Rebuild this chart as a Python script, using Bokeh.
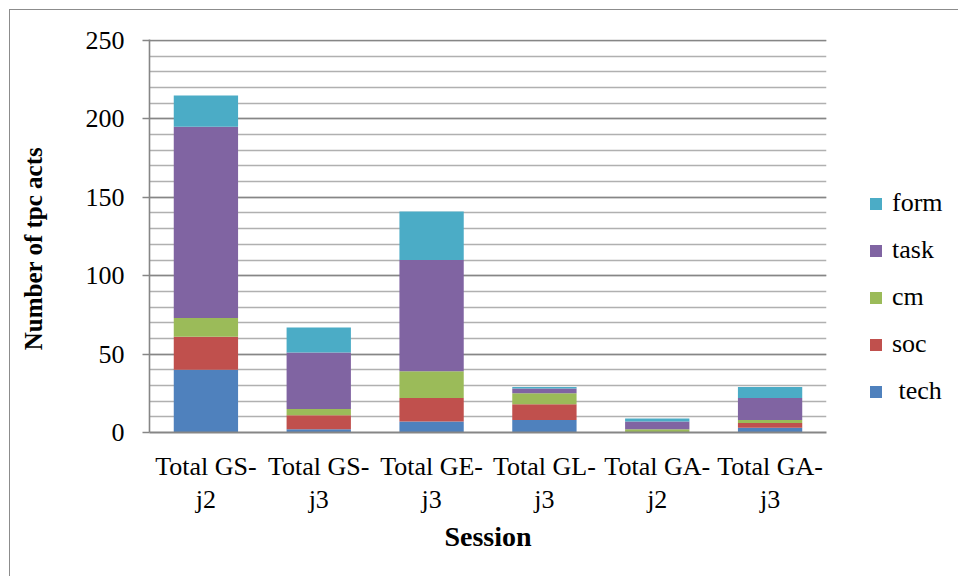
from bokeh.plotting import figure
from bokeh.models import Legend, LegendItem, SingleIntervalTicker, FixedTicker
from bokeh.embed import file_html
from bokeh.resources import INLINE

sessions = ["Total GS-\nj2", "Total GS-\nj3", "Total GE-\nj3", "Total GL-\nj3", "Total GA-\nj2", "Total GA-\nj3"]
tech = [40, 2, 7, 8, 0, 3]
soc = [21, 9, 15, 10, 0, 3]
cm = [12, 4, 17, 7, 2, 2]
task = [122, 36, 71, 3, 5, 14]
form = [20, 16, 31, 1, 2, 7]

series = ["tech", "soc", "cm", "task", "form"]
legend_labels = [" tech", "soc", "cm", "task", "form"]
colors = ["#4f81bd", "#c0504d", "#9bbb59", "#8064a2", "#4bacc6"]

data = {"session": sessions, "tech": tech, "soc": soc, "cm": cm, "task": task, "form": form}

FONT = "Liberation Serif"

p = figure(x_range=sessions, y_range=(0, 250.64), frame_width=677, frame_height=393,
           output_backend="svg", toolbar_location=None,
           min_border_left=139, min_border_right=122, min_border_top=29, min_border_bottom=144)
p.styles = {"margin-left": "9px", "margin-top": "9px",
            "border-top": "1px solid #8c8c8c", "border-left": "1px solid #8c8c8c",
            "border-right": "1px solid #8c8c8c"}
p.outline_line_color = None
p.background_fill_color = "white"
p.border_fill_color = "white"

renderers = p.vbar_stack(series, x="session", width=0.57, color=colors, line_color=None, source=data)

# grid
p.xgrid.grid_line_color = None
p.ygrid.ticker = SingleIntervalTicker(interval=50, num_minor_ticks=5)
p.ygrid.grid_line_color = "#868686"
p.ygrid.grid_line_width = 1.6
p.ygrid.minor_grid_line_color = "#b0b0b0"
p.ygrid.minor_grid_line_width = 1.6

# y axis
p.yaxis.ticker = FixedTicker(ticks=[0, 50, 100, 150, 200, 250])
p.yaxis.axis_line_color = "#868686"
p.yaxis.axis_line_width = 1.6
p.yaxis.major_tick_line_color = "#868686"
p.yaxis.major_tick_line_width = 1.6
p.yaxis.major_tick_out = 7
p.yaxis.major_tick_in = 0
p.yaxis.minor_tick_line_color = None
p.yaxis.major_label_text_font = FONT
p.yaxis.major_label_text_font_size = "26px"
p.yaxis.major_label_text_color = "black"
p.yaxis.major_label_standoff = 18
p.yaxis.axis_label = "Number of tpc acts" + "\u00a0" * 4
p.yaxis.axis_label_text_font = FONT
p.yaxis.axis_label_text_font_style = "bold"
p.yaxis.axis_label_text_font_size = "25px"
p.yaxis.axis_label_text_color = "black"
p.yaxis.axis_label_standoff = 36

# x axis
p.xaxis.axis_line_color = "#868686"
p.xaxis.axis_line_width = 2
p.xaxis.major_tick_line_color = None
p.xaxis.major_tick_out = 0
p.xaxis.major_tick_in = 0
p.xaxis.minor_tick_line_color = None
p.xaxis.major_label_text_font = FONT
p.xaxis.major_label_text_font_size = "26px"
p.xaxis.major_label_text_color = "black"
p.xaxis.major_label_text_line_height = 1.15
p.xaxis.major_label_standoff = 19
p.xaxis.axis_label = "Session"
p.xaxis.axis_label_text_font = FONT
p.xaxis.axis_label_text_font_style = "bold"
p.xaxis.axis_label_text_font_size = "28px"
p.xaxis.axis_label_text_color = "black"
p.xaxis.axis_label_standoff = 4

items = [LegendItem(label=l, renderers=[r]) for l, r in zip(legend_labels, renderers)][::-1]
legend = Legend(items=items, location=(42, 26), orientation="vertical",
                padding=0, margin=0, border_line_color=None, background_fill_alpha=0,
                glyph_width=15, glyph_height=15, label_height=30, spacing=17,
                label_standoff=9, label_text_font=FONT, label_text_font_size="26px",
                label_text_color="black")
p.add_layout(legend, "right")

open("out.html", "w").write(file_html(p, INLINE))
